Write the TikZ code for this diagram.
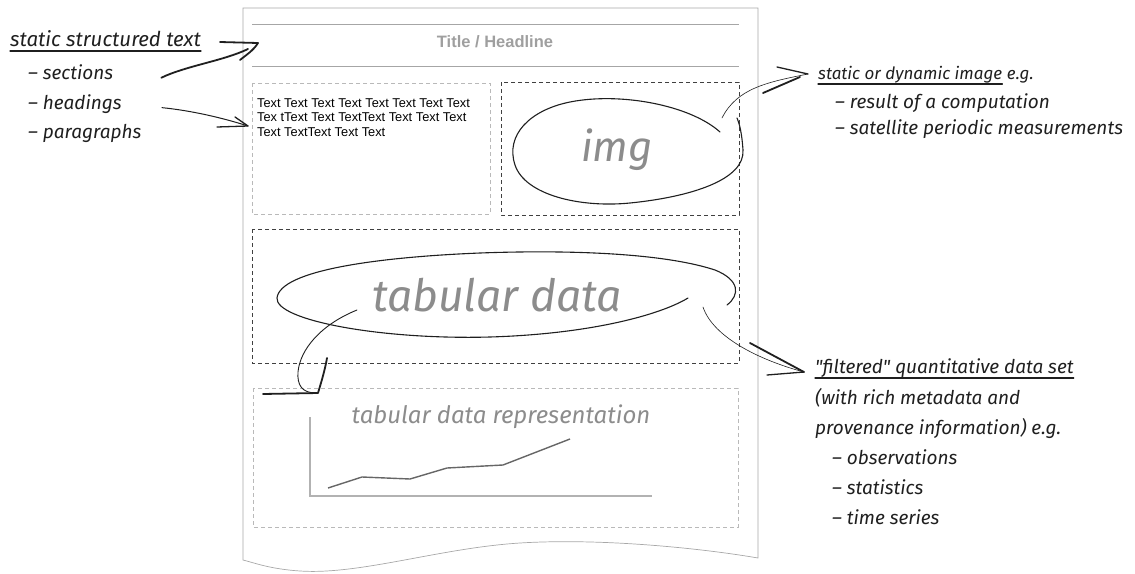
\documentclass[tikz,border=0pt]{standalone}
\usepackage{fontspec}
\setmainfont{Liberation Sans}
\newfontfamily\handfont{Fira Sans}
\usetikzlibrary{calc}
\definecolor{ink}{gray}{0.12}
\definecolor{pagegray}{gray}{0.66}
\definecolor{softgray}{gray}{0.55}
\begin{document}
\begin{tikzpicture}[x=1pt,y=-1pt,
  hand/.style={font=\handfont\itshape\fontsize{19}{22}\selectfont, anchor=base west, inner sep=0pt, text=ink},
  bigword/.style={font=\handfont\itshape, inner sep=0pt, text=softgray},
  pageline/.style={draw=pagegray, line width=0.7pt},
  rule/.style={draw=gray!70, line width=0.6pt},
  darkdash/.style={draw=black!75, line width=0.9pt, dash pattern=on 4pt off 3pt},
  lightdash/.style={draw=gray!55, line width=0.8pt, dash pattern=on 4pt off 3pt},
  penline/.style={draw=ink, line cap=round, line join=round, line width=0.6pt},
  brush/.style={draw=ink, line cap=round, line join=round, line width=1.8pt},
  loop/.style={draw=ink, line cap=round, line join=round, line width=1.1pt},
  uline/.style={draw=ink, line width=1.1pt, line cap=round},
]
\useasboundingbox (0,0) rectangle (1135,573);

% --- the page with a torn lower edge
\draw[pageline] (243,8) -- (758,8) -- (758,558)
  .. controls (700,548) and (600,538) .. (520,543)
  .. controls (440,548) and (360,575) .. (300,571)
  .. controls (270,569) and (255,563) .. (243,560) -- cycle;

% --- headline band
\draw[rule] (252,24) -- (739,24);
\draw[rule] (252,66) -- (739,66);
\node[font=\bfseries\fontsize{16.5}{18}\selectfont, text=gray!75, inner sep=0pt] (title) at (495,42) {Title / Headline};
\coordinate (titlein) at (258,43);

% --- paragraph block
\draw[lightdash] (252,83) rectangle (490,214);
\node[anchor=north west, align=left, inner sep=0pt, font=\fontsize{12.8}{14.5}\selectfont] (para) at (257,98)
  {Text Text Text Text Text Text Text Text\\Tex tText Text TextText Text Text Text\\Text TextText Text Text};
\coordinate (parain) at (248,126);

% --- image block
\draw[darkdash] (501,82) rectangle (739,215);
\node[bigword, font=\handfont\itshape\fontsize{42}{44}\selectfont] (img) at (617,150) {img};
\draw[loop] (720,132) .. controls (690,105) and (620,92) .. (570,102)
  .. controls (530,110) and (505,135) .. (515,165)
  .. controls (525,195) and (580,208) .. (630,203)
  .. controls (690,197) and (745,180) .. (743,150)
  .. controls (742,135) and (740,125) .. (737,118);
\coordinate (imgout) at (722,118);

% --- tabular block
\draw[darkdash] (252,229) rectangle (739,363);
\node[bigword, font=\handfont\itshape\fontsize{44.5}{46}\selectfont] (tab) at (497,295) {tabular data};
\draw[loop] (727,305) .. controls (740,295) and (740,280) .. (715,270)
  .. controls (660,252) and (560,250) .. (480,253)
  .. controls (380,257) and (280,270) .. (277,298)
  .. controls (275,320) and (380,340) .. (490,337)
  .. controls (590,334) and (660,315) .. (688,298);
\coordinate (tabout) at (703,307);
\coordinate (tabdown) at (357,310);

% --- representation block
\draw[lightdash] (253,388) rectangle (738,527);
\node[bigword, font=\handfont\itshape\fontsize{24}{26}\selectfont] (rep) at (501,417) {tabular data representation};
\coordinate (repin) at (316,393);
\draw[draw=gray!60, line width=2pt] (310,417) -- (310,496) -- (652,496);
\draw[draw=black!60, line width=1.4pt, line join=round] (328,488) -- (362,477) -- (410,479) -- (447,468) -- (503,465) -- (570,439);

% --- left notes
\node[hand, font=\handfont\itshape\fontsize{20.5}{22}\selectfont] (lt) at (10,46) {static structured text};
\draw[uline] ([yshift=-5pt]lt.base west) -- ([yshift=-5pt]lt.base east);
\node[hand] (sec) at (28,79) {– sections};
\node[hand] (head) at (28,109) {– headings};
\node[hand] (par) at (28,138) {– paragraphs};

% --- right notes, image
\node[hand, font=\handfont\itshape\fontsize{17}{19}\selectfont] (it) at (818,79) {static or dynamic image};
\node[hand, font=\handfont\itshape\fontsize{17}{19}\selectfont, anchor=base west] (iteg) at (it.base east) {\ e.g.};
\draw[uline] ([yshift=-5pt]it.base west) -- ([yshift=-5pt]it.base east);
\node[hand] (i1) at (835,108) {– result of a computation};
\node[hand] (i2) at (835,134) {– satellite periodic measurements};
\coordinate (imgtip) at (808,74);

% --- right notes, data set
\node[hand] (ft) at (815,373) {"filtered" quantitative data set};
\draw[uline] ([yshift=-5pt]ft.base west) -- ([yshift=-5pt]ft.base east);
\node[hand] (f1) at (815,404) {(with rich metadata and};
\node[hand] (f2) at (815,434) {provenance information) e.g.};
\node[hand] (f3) at (832,464) {– observations};
\node[hand] (f4) at (832,494) {– statistics};
\node[hand] (f5) at (832,524) {– time series};
\coordinate (fttip) at (804,372);

% --- arrows
% sections -> headline
\draw[brush] ([xshift=48pt,yshift=-6pt]sec.east) .. controls +(25,-12) and +(-25,12) .. ([shift={(-10,6)}]titlein);
\draw[brush] ([shift={(-38,-1)}]titlein) -- (titlein) .. controls +(-5,8) and +(6,-5) .. ([shift={(-18,17)}]titlein);
% headings -> paragraph
\draw[penline, line width=1pt] ([xshift=40pt,yshift=-4pt]head.east) .. controls +(30,3) and +(-25,-8) .. (parain);
\draw[brush, line width=1.3pt] ([shift={(-31,1)}]parain) -- (parain) -- ([shift={(-13,-9)}]parain);
% image -> image note
\draw[penline] (imgout) .. controls +(15,-30) and +(-40,8) .. (imgtip);
\draw[brush, line width=1.3pt] ([shift={(-31,-7)}]imgtip) -- (imgtip);
\draw[brush] ([shift={(-45,19)}]imgtip) -- ([shift={(-8,3)}]imgtip);
% tabular data -> data set note
\draw[penline] (tabout) .. controls +(10,30) and +(-45,-12) .. (fttip);
\draw[brush] ([shift={(-54,-29)}]fttip) -- (fttip);
\draw[brush, line width=1.3pt] ([shift={(-37,3)}]fttip) -- (fttip);
% tabular data -> representation
\draw[penline, line width=0.9pt] (tabdown) .. controls (320,325) and (300,350) .. (298,372)
  .. controls (297,385) and (302,393) .. (repin);
\draw[brush] ([shift={(-53,1)}]repin) -- ([shift={(2,0)}]repin) .. controls +(3,-10) and +(-2,12) .. ([shift={(11,-35)}]repin);
\end{tikzpicture}
\end{document}
